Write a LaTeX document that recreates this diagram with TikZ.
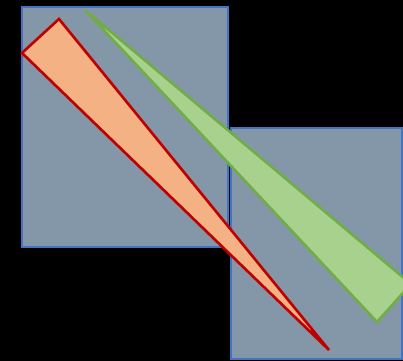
\documentclass[tikz,border=0pt]{standalone}
\usepackage{tikz}
\definecolor{panelfill}{RGB}{132,151,168}
\definecolor{panelline}{RGB}{68,114,196}
\definecolor{wedgeorange}{RGB}{244,177,131}
\definecolor{wedgered}{RGB}{192,0,0}
\definecolor{wedgegreen}{RGB}{169,209,142}
\definecolor{wedgegreenline}{RGB}{112,173,71}
\tikzset{
  panel/.style={fill=panelfill, draw=panelline, line width=1.1pt},
  wedge/.style={line width=1.5pt, line join=miter}
}

\begin{document}
\begin{tikzpicture}[x=0.02cm, y=-0.02cm]
  \fill[black] (0,0) rectangle (403,361);
  \useasboundingbox (0,0) rectangle (403,361);
  \clip (0,0) rectangle (403,361);
  % two panels
  \draw[panel] (22,7) rectangle (228,247);
  \draw[panel] (231,128) rectangle (402,359);
  % wedges
  \draw[wedge, fill=wedgeorange, draw=wedgered] (22,53) -- (59,19) -- (329,350) -- cycle;
  \draw[wedge, fill=wedgegreen, draw=wedgegreenline] (85,10) -- (411,284) -- (377,322) -- cycle;
\end{tikzpicture}
\end{document}
